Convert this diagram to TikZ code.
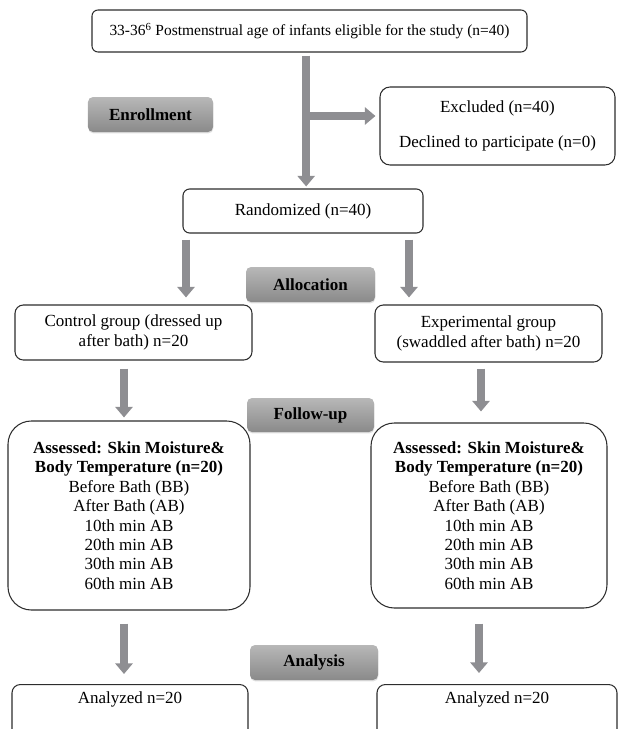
\documentclass[tikz,border=0pt]{standalone}
\usepackage{fontspec}
\setmainfont{Liberation Serif}
\usetikzlibrary{arrows.meta,shadows}
\definecolor{bargray}{RGB}{142,142,146}
\definecolor{linegray}{RGB}{45,45,45}
\tikzstyle{box} = [draw=linegray, line width=0.9pt, rounded corners=0.2cm, align=center, inner sep=2pt, font=\fontsize{14.5}{17}\selectfont]
\tikzstyle{stage} = [rounded corners=0.15cm, top color=black!28, bottom color=black!46, draw=none, font=\fontsize{14.5}{16}\selectfont\bfseries, drop shadow={opacity=0.25, shadow xshift=0.3pt, shadow yshift=-1.2pt}]
\tikzstyle{bar} = [draw=bargray, line width=6.5pt, -{Triangle[width=14.5pt,length=9pt]}]
\begin{document}
\begin{tikzpicture}[x=0.03cm, y=-0.03cm]
\useasboundingbox (0,0) rectangle (619,729);
\clip (0,0) rectangle (619,729);

% enrollment
\node[box, rounded corners=0.18cm, minimum width=13.05cm, minimum height=1.26cm, font=\fontsize{13.2}{16}\selectfont] (top) at (309.5,31) {33-36\textsuperscript{6} Postmenstrual age of infants eligible for the study (n=40)};
\node[box, rounded corners=0.3cm, minimum width=7.05cm, minimum height=2.34cm] (excl) at (497.5,126) {Excluded (n=40)\\[13pt]Declined to participate (n=0)};
\node[stage, minimum width=3.75cm, minimum height=1.05cm] (enroll) at (150.5,114.5) {Enrollment};
\node[box, minimum width=7.2cm, minimum height=1.32cm] (rand) at (303,211) {Randomized (n=40)};
\coordinate (branch) at (306,116);

% allocation
\node[stage, minimum width=3.87cm, minimum height=1.05cm] (alloc) at (310.5,284.5) {Allocation};
\node[box, rounded corners=0.25cm, minimum width=7.11cm, minimum height=1.65cm] (ctrl) at (133.5,332.5) {Control group (dressed up\\after bath) n=20};
\node[box, rounded corners=0.25cm, minimum width=6.81cm, minimum height=1.71cm] (exp) at (488.5,333.5) {Experimental group\\(swaddled after bath) n=20};

% follow-up
\node[stage, minimum width=3.81cm, minimum height=1.02cm] (follow) at (310.5,415) {Follow-up};
\node[box, rounded corners=0.7cm, minimum width=7.26cm, minimum height=5.67cm, font=\fontsize{14.5}{16.6}\selectfont] (assessL) at (129,515.5) {\textbf{Assessed: Skin Moisture\&}\\\textbf{Body Temperature (n=20)}\\Before Bath (BB)\\After Bath (AB)\\10th min AB\\20th min AB\\30th min AB\\60th min AB};
\node[box, rounded corners=0.7cm, minimum width=7.08cm, minimum height=5.55cm, font=\fontsize{14.5}{16.6}\selectfont] (assessR) at (489,515.5) {\textbf{Assessed: Skin Moisture\&}\\\textbf{Body Temperature (n=20)}\\Before Bath (BB)\\After Bath (AB)\\10th min AB\\20th min AB\\30th min AB\\60th min AB};

% analysis
\node[stage, minimum width=3.84cm, minimum height=1.05cm] (analysis) at (314,662.5) {Analysis};
\node[box, rounded corners=0.25cm, anchor=north, inner ysep=6pt, minimum width=7.08cm, minimum height=2cm, text depth=40pt] (anL) at (130,684) {Analyzed n=20};
\node[box, rounded corners=0.25cm, anchor=north, inner ysep=6pt, minimum width=7.2cm, minimum height=2cm, text depth=40pt] (anR) at (497,684) {Analyzed n=20};

\draw[bar, shorten <=0.09cm, shorten >=0.06cm] ([xshift=-0.1cm]top.south) -- ([xshift=-0.1cm]top.south |- rand.north);
\draw[bar, shorten >=0.12cm] (branch) -- (branch -| excl.west);

\draw[bar, shorten <=0.18cm, shorten >=0.21cm] ([xshift=-3.51cm]rand.south) -- ([xshift=-3.51cm]rand.south |- ctrl.north);
\draw[bar, shorten <=0.18cm, shorten >=0.21cm] ([xshift=3.18cm]rand.south) -- ([xshift=3.18cm]rand.south |- exp.north);

\draw[bar, shorten <=0.24cm, shorten >=0.09cm] ([xshift=-0.285cm]ctrl.south) -- ([xshift=-0.285cm]ctrl.south |- assessL.north);
\draw[bar, shorten <=0.18cm, shorten >=0.33cm] ([xshift=-0.225cm]exp.south) -- ([xshift=-0.225cm]exp.south |- assessR.north);

\draw[bar, shorten <=0.39cm, shorten >=0.3cm] ([xshift=-0.15cm]assessL.south) -- ([xshift=-0.15cm]assessL.south |- anL.north);
\draw[bar, shorten <=0.45cm, shorten >=0.33cm] ([xshift=-0.3cm]assessR.south) -- ([xshift=-0.3cm]assessR.south |- anR.north);

\end{tikzpicture}
\end{document}
